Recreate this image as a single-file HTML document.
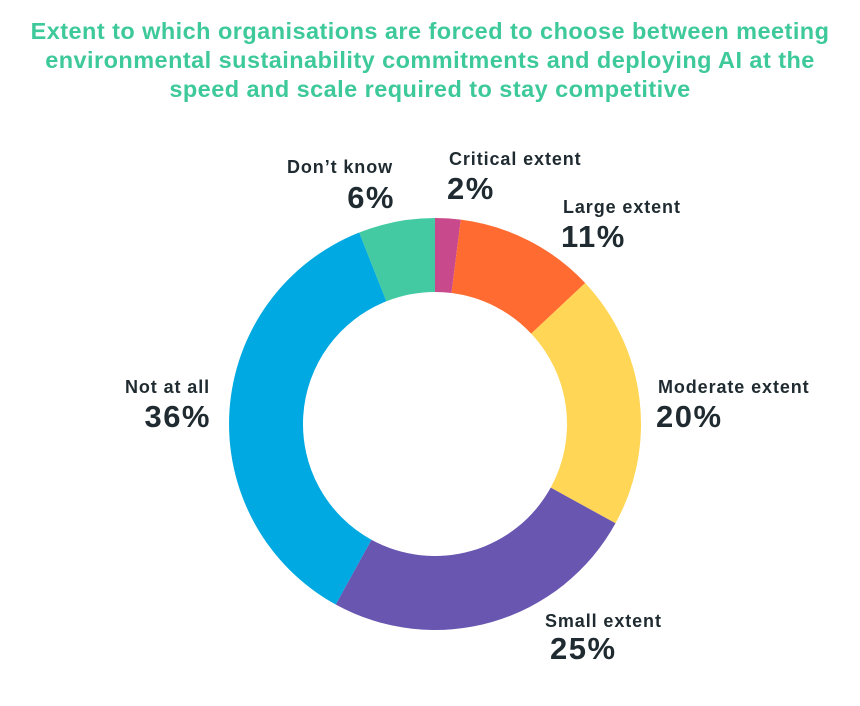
<!DOCTYPE html>
<html><head><meta charset="utf-8"><style>
body{margin:0;background:#fff;width:860px;height:706px;overflow:hidden;font-family:"Liberation Sans",sans-serif;}
.t{position:absolute;left:0;width:860px;text-align:center;color:#3ec99b;font-weight:bold;font-size:23.5px;line-height:29px;top:17px;letter-spacing:0.45px;}
.l{position:absolute;color:#1f2b30;font-weight:bold;font-size:18px;letter-spacing:0.9px;white-space:nowrap;}
.p{position:absolute;color:#1f2b30;font-weight:bold;font-size:31px;letter-spacing:1.5px;white-space:nowrap;}
.r{text-align:right;}
</style></head><body>
<div class="t">Extent to which organisations are forced to choose between meeting<br>environmental sustainability commitments and deploying AI at the<br>speed and scale required to stay competitive</div>
<svg width="860" height="706" style="position:absolute;left:0;top:0">
<path fill="#c94a8c" d="M435,218 A206,206 0 0 1 460.8,219.6 L451.5,293 A132,132 0 0 0 435,292 Z"/>
<path fill="#ff6b30" d="M460.8,219.6 A206,206 0 0 1 585.2,283 L531.2,333.6 A132,132 0 0 0 451.5,293 Z"/>
<path fill="#ffd656" d="M585.2,283 A206,206 0 0 1 615.5,523.3 L550.7,487.6 A132,132 0 0 0 531.2,333.6 Z"/>
<path fill="#6956b1" d="M615.5,523.3 A206,206 0 0 1 335.7,604.5 L371.4,539.7 A132,132 0 0 0 550.7,487.6 Z"/>
<path fill="#00a9e1" d="M335.7,604.5 A206,206 0 0 1 359.2,232.5 L386.4,301.3 A132,132 0 0 0 371.4,539.7 Z"/>
<path fill="#43caa3" d="M359.2,232.5 A206,206 0 0 1 435,218 L435,292 A132,132 0 0 0 386.4,301.3 Z"/>
</svg>
<div class="l r" style="right:467px;top:157px">Don’t know</div>
<div class="p r" style="right:465px;top:180px">6%</div>
<div class="l" style="left:449px;top:149px">Critical extent</div>
<div class="p" style="left:447px;top:171px">2%</div>
<div class="l" style="left:563px;top:197px">Large extent</div>
<div class="p" style="left:561px;top:219px">11%</div>
<div class="l" style="left:658px;top:377px">Moderate extent</div>
<div class="p" style="left:656px;top:399px">20%</div>
<div class="l r" style="right:650px;top:377px">Not at all</div>
<div class="p r" style="right:649px;top:399px">36%</div>
<div class="l" style="left:545px;top:611px">Small extent</div>
<div class="p" style="left:550px;top:631px">25%</div>
</body></html>
